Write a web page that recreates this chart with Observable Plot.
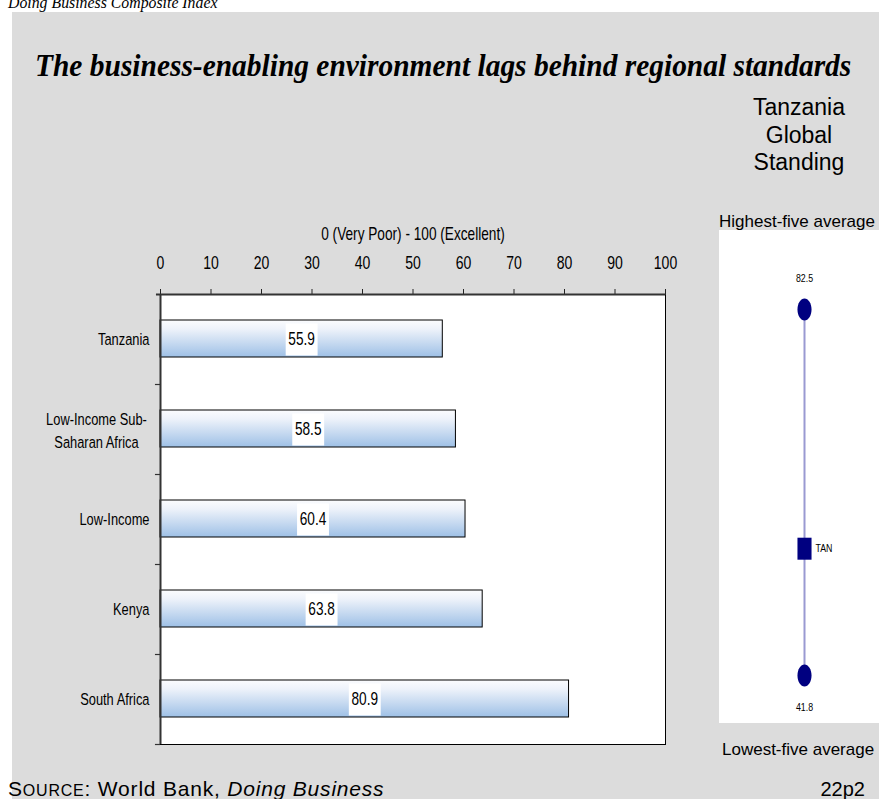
<!DOCTYPE html>
<html><head><meta charset="utf-8">
<script src="https://cdn.jsdelivr.net/npm/d3@7"></script>
<script src="https://cdn.jsdelivr.net/npm/@observablehq/plot@0.6"></script>
<style>
body{margin:0;background:#fff;}
#page{position:relative;width:879px;height:799px;overflow:hidden;background:#fff;font-family:"Liberation Sans",Arial,sans-serif;color:#000;}
#grey{position:absolute;left:12px;top:12px;right:0;bottom:0;background:#dcdcdc;}
.abs{position:absolute;white-space:nowrap;}
#kicker{left:8px;top:-6px;font:italic 17px/17px "Liberation Serif","Times New Roman",serif;transform:scaleX(0.93);transform-origin:0 0;}
#title{left:35px;top:49px;font:italic bold 32px/32px "Liberation Serif","Times New Roman",serif;transform:scaleX(0.92);transform-origin:0 0;}
#standHead{left:719px;width:160px;top:94px;text-align:center;font-size:23px;line-height:27.5px;}
#hi{left:719px;top:212px;font-size:17px;line-height:20px;}
#lo{left:722px;top:740px;font-size:17px;line-height:20px;}
#src{left:8px;top:779px;font-size:21px;line-height:20px;letter-spacing:0.8px;}
#src .sc{font-size:16px;}
#code{right:14px;top:779px;font-size:20px;line-height:20px;}
#bar{position:absolute;left:0;top:200px;}
#stand{position:absolute;left:719px;top:230px;}
</style></head>
<body><div id="page">
<div id="grey"></div>
<div class="abs" id="kicker">Doing Business Composite Index</div>
<div class="abs" id="title"></div>
<div class="abs" id="standHead"></div>
<div class="abs" id="hi"></div>
<div class="abs" id="lo"></div>
<div class="abs" id="src">S<span class="sc">OURCE</span>: World Bank, <i>Doing Business</i></div>
<div class="abs" id="code"></div>
<div id="bar"></div>
<div id="stand"></div>
</div>
<script>
// ---- data ----
const chartTitle = "The business-enabling environment lags behind regional standards";
const standingTitle = ["Tanzania", "Global", "Standing"];
const highLabel = "Highest-five average";
const lowLabel = "Lowest-five average";
const pageCode = "22p2";
const categories = ["Tanzania", "Low-Income Sub-Saharan Africa", "Low-Income", "Kenya", "South Africa"];
const categoryLabels = ["Tanzania", "Low-Income Sub-\nSaharan Africa", "Low-Income", "Kenya", "South Africa"];
const scores = [55.9, 58.5, 60.4, 63.8, 80.9];
const scoreLabels = ["55.9", "58.5", "60.4", "63.8", "80.9"];
const xTicks = [0, 10, 20, 30, 40, 50, 60, 70, 80, 90, 100];
const axisTitle = "0 (Very Poor) - 100 (Excellent)";
const standingValues = [82.5, 41.8];
const standingLabels = ["82.5", "41.8"];
const countryCode = "TAN";
const countryValue = 55.9;

document.getElementById("title").textContent = chartTitle;
document.getElementById("standHead").innerHTML = standingTitle.join("<br>");
document.getElementById("hi").textContent = highLabel;
document.getElementById("lo").textContent = lowLabel;
document.getElementById("code").textContent = pageCode;

const SANS = '"Liberation Sans",Arial,sans-serif';
const rows = categories.map((c, i) => ({name: c, label: categoryLabels[i], value: scores[i], text: scoreLabels[i]}));

// condense every SVG text about its own anchor (narrow-font look of the original)
function condense(svg, sx) {
  d3.select(svg).selectAll("text").each(function () {
    const t = this.getAttribute("transform") || "";
    this.setAttribute("transform", (t + ` scale(${sx},1)`).trim());
  });
}

const bar = Plot.plot({
  width: 700, height: 560,
  marginLeft: 160, marginRight: 35, marginTop: 94, marginBottom: 16,
  style: {background: "transparent", fontFamily: SANS, fontSize: "15px", overflow: "visible"},
  x: {domain: [0, 100], axis: null},
  y: {domain: categories, padding: 0, axis: null},
  marks: [
    Plot.frame({fill: "white", stroke: "black", strokeWidth: 1}),
    Plot.axisX(xTicks, {anchor: "top", tickSize: 6, tickPadding: 20, fontSize: 18, label: null, tickFormat: d => String(d), stroke: "#222"}),
    Plot.text([axisTitle], {frameAnchor: "top", dy: -67, fontSize: 17.5}),
    Plot.barX(rows, {x: "value", y: "name", fill: "url(#barGrad)", stroke: "black", strokeWidth: 1, insetTop: 26, insetBottom: 27}),
    Plot.ruleX([0], {stroke: "#333", strokeWidth: 2}),
    Plot.ruleY([categories[0]], {dy: -45, x1: -0.8, x2: 100, stroke: "#333", strokeWidth: 2}),
    Plot.ruleY(categories, {dy: 45, x1: -1, x2: 0, stroke: "#333", strokeWidth: 1.2}),
    Plot.dot(rows, {x: d => d.value / 2, y: "name", symbol: "square", r: 18, fill: "white"}),
    Plot.text(rows, {x: d => d.value / 2, y: "name", text: "text", fontSize: 17.5}),
    Plot.text(rows.filter(d => !d.label.includes("\n")), {y: "name", text: "label", frameAnchor: "left", textAnchor: "end", dx: -11, fontSize: 16.5}),
    Plot.text(rows.filter(d => d.label.includes("\n")), {y: "name", text: "label", frameAnchor: "left", textAnchor: "middle", dx: -64, fontSize: 16.5, lineHeight: 1.39})
  ]
});
const defs = d3.select(bar).insert("defs", ":first-child");
const grad = defs.append("linearGradient").attr("id", "barGrad").attr("x1", 0).attr("y1", 0).attr("x2", 0).attr("y2", 1);
grad.append("stop").attr("offset", "0%").attr("stop-color", "#fbfcfe");
grad.append("stop").attr("offset", "25%").attr("stop-color", "#edf2fa");
grad.append("stop").attr("offset", "100%").attr("stop-color", "#9ec0e6");
condense(bar, 0.78);
document.getElementById("bar").appendChild(bar);

const k = 0.5523;
const ellipseSymbol = {draw(ctx, size) {
  const r = Math.sqrt(size / Math.PI), rx = r * 0.64, ry = r;
  ctx.moveTo(rx, 0);
  ctx.bezierCurveTo(rx, ry * k, rx * k, ry, 0, ry);
  ctx.bezierCurveTo(-rx * k, ry, -rx, ry * k, -rx, 0);
  ctx.bezierCurveTo(-rx, -ry * k, -rx * k, -ry, 0, -ry);
  ctx.bezierCurveTo(rx * k, -ry, rx, -ry * k, rx, 0);
  ctx.closePath();
}};
const rectSymbol = {draw(ctx, size) {
  const r = Math.sqrt(size / Math.PI), w = r * 0.64;
  ctx.rect(-w, -r, 2 * w, 2 * r);
}};
const standRows = standingValues.map((v, i) => ({value: v, label: standingLabels[i]}));
const hiVal = d3.max(standingValues), loVal = d3.min(standingValues);

const stand = Plot.plot({
  width: 160, height: 493,
  marginTop: 79, marginBottom: 48, marginLeft: 10, marginRight: 0,
  style: {background: "white", fontFamily: SANS, overflow: "visible"},
  y: {domain: [loVal, hiVal], axis: null},
  marks: [
    Plot.ruleX([standingValues], {x: null, y1: d => d3.min(d), y2: d => d3.max(d), stroke: "#9a9ad2", strokeWidth: 2}),
    Plot.dot(standRows, {y: "value", symbol: ellipseSymbol, r: 11, fill: "#000080"}),
    Plot.dot([countryValue], {y: d => d, symbol: rectSymbol, r: 11, fill: "#000080"}),
    Plot.text([countryValue], {y: d => d, text: () => countryCode, textAnchor: "start", dx: 11, fontSize: 11}),
    Plot.text(standRows.filter(d => d.value === hiVal), {y: "value", text: "label", dy: -31, fontSize: 11}),
    Plot.text(standRows.filter(d => d.value === loVal), {y: "value", text: "label", dy: 32, fontSize: 11})
  ]
});
condense(stand, 0.8);
document.getElementById("stand").appendChild(stand);
</script>
</body></html>
